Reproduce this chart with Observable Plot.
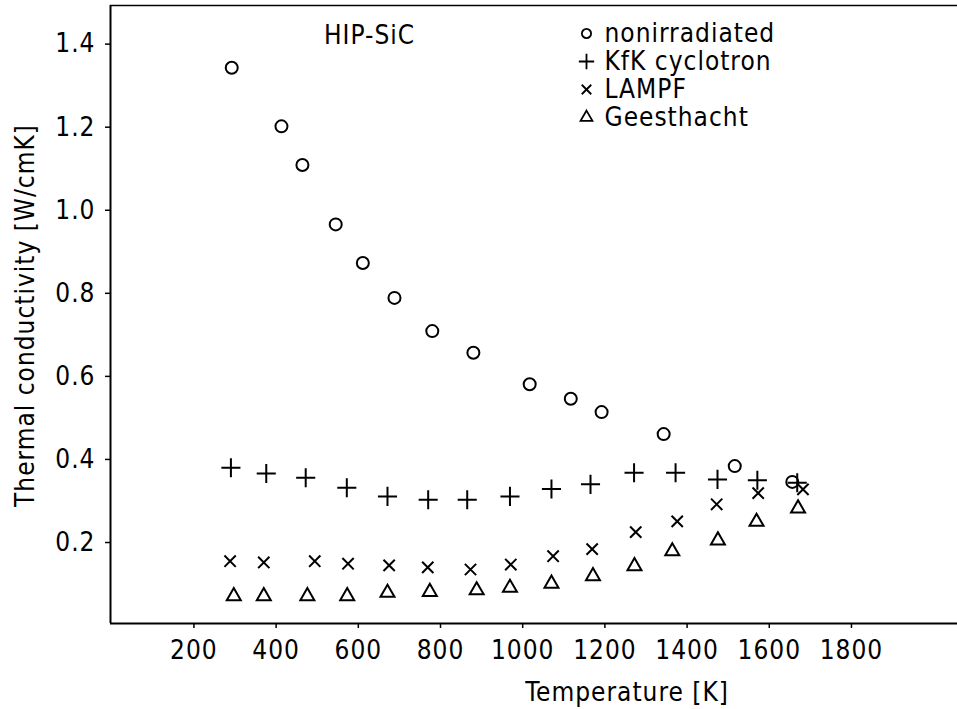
<!DOCTYPE html>
<html>
<head>
<meta charset="utf-8">
<script src="https://cdn.jsdelivr.net/npm/d3@7"></script>
<script src="https://cdn.jsdelivr.net/npm/@observablehq/plot@0.6"></script>
<style>
  html, body { margin: 0; padding: 0; background: #fff; overflow: hidden; }
  #chart svg, #chart svg text {
    font-family: "DejaVu Sans Condensed", "DejaVu Sans", sans-serif;
    letter-spacing: 1px;
  }
</style>
</head>
<body>
<div id="chart"></div>
<script>
// Thermal conductivity of HIP-SiC versus temperature, before and after irradiation
const nonirradiatedT = [292, 413, 464, 545, 611, 688, 780, 880, 1017, 1117, 1192, 1343, 1516, 1656];
const nonirradiatedK = [1.343, 1.202, 1.109, 0.966, 0.873, 0.789, 0.709, 0.657, 0.581, 0.546, 0.514, 0.461, 0.384, 0.346];

const kfkT = [290, 376, 472, 572, 671, 770, 865, 969, 1070, 1165, 1271, 1372, 1474, 1571, 1668];
const kfkK = [0.380, 0.366, 0.356, 0.332, 0.311, 0.303, 0.303, 0.311, 0.329, 0.340, 0.368, 0.368, 0.352, 0.350, 0.344];

const lampfT = [288, 370, 494, 575, 675, 769, 873, 971, 1074, 1169, 1275, 1376, 1472, 1573, 1682];
const lampfK = [0.155, 0.152, 0.155, 0.149, 0.145, 0.140, 0.135, 0.147, 0.167, 0.184, 0.225, 0.251, 0.292, 0.319, 0.328];

const geesthachtT = [297, 370, 476, 573, 671, 774, 888, 969, 1070, 1171, 1272, 1364, 1475, 1569, 1670];
const geesthachtK = [0.071, 0.071, 0.071, 0.071, 0.079, 0.081, 0.085, 0.091, 0.101, 0.119, 0.143, 0.179, 0.205, 0.250, 0.282];

const seriesNames = ["nonirradiated", "KfK cyclotron", "LAMPF", "Geesthacht"];
const seriesSymbols = ["circle", "plus", "times", "triangle"];

const xTicks = [200, 400, 600, 800, 1000, 1200, 1400, 1600, 1800];
const yTicks = [0.2, 0.4, 0.6, 0.8, 1.0, 1.2, 1.4];

const xDomain = [-3, 2058];
const yDomain = [0.005, 1.493];

const series = [
  [nonirradiatedT, nonirradiatedK],
  [kfkT, kfkK],
  [lampfT, lampfK],
  [geesthachtT, geesthachtK]
].map(([T, K], s) => T.map((t, i) => ({series: seriesNames[s], T: t, k: K[i]})));

const symbolSize = {circle: 6, plus: 6.2, times: 5.2, triangle: 5.2};
const legendSize = {circle: 4.6, plus: 5, times: 4.4, triangle: 4.4};

const marks = [];

// frame lines: left axis, bottom axis and top border
marks.push(Plot.ruleX([xDomain[0]], {stroke: "black", strokeWidth: 2}));
marks.push(Plot.ruleY([yDomain[0]], {stroke: "black", strokeWidth: 2}));
marks.push(Plot.ruleY([yDomain[1]], {stroke: "black", strokeWidth: 1.5}));

marks.push(Plot.axisX({
  ticks: xTicks, tickSize: 5, tickPadding: 12, label: null,
  tickFormat: d => String(d), strokeWidth: 1.5, fontSize: 26
}));
marks.push(Plot.axisY({
  ticks: yTicks, tickSize: 5, tickPadding: 10, label: null,
  tickFormat: d => d.toFixed(1), strokeWidth: 1.5, fontSize: 26
}));

marks.push(Plot.text(["Temperature [K]"], {
  frameAnchor: "bottom", dx: 93, dy: 69, lineAnchor: "middle", textAnchor: "middle", fontSize: 26
}));
marks.push(Plot.text(["Thermal conductivity [W/cmK]"], {
  frameAnchor: "left", rotate: -90, dx: -85, dy: 1,
  lineAnchor: "middle", textAnchor: "middle", fontSize: 26
}));
marks.push(Plot.text(["HIP-SiC"], {
  frameAnchor: "top-left", dx: 259, dy: 30, lineAnchor: "middle", textAnchor: "middle", fontSize: 26
}));

// data points, one symbol per series
series.forEach((data, s) => {
  const sym = seriesSymbols[s];
  marks.push(Plot.dot(data, {
    x: "T", y: "k", symbol: () => sym, r: symbolSize[sym],
    fill: "none", stroke: "black", strokeWidth: 2
  }));
});

// legend in the upper right
seriesNames.forEach((name, i) => {
  const sym = seriesSymbols[i];
  marks.push(Plot.dot([name], {
    frameAnchor: "top-left", dx: 476, dy: 28 + 28 * i, symbol: () => sym,
    r: legendSize[sym], fill: "none", stroke: "black", strokeWidth: 1.8
  }));
  marks.push(Plot.text([name], {
    frameAnchor: "top-left", dx: 494, dy: 28 + 28 * i, textAnchor: "start",
    lineAnchor: "middle", fontSize: 26
  }));
});

const chart = Plot.plot({
  width: 957,
  height: 709,
  marginLeft: 110,
  marginRight: 0,
  marginTop: 5,
  marginBottom: 86,
  x: {domain: xDomain},
  y: {domain: yDomain},
  symbol: {type: "identity"},
  style: {
    fontSize: "26px",
    color: "black",
    background: "white"
  },
  marks
});
document.getElementById("chart").appendChild(chart);
</script>
</body>
</html>
